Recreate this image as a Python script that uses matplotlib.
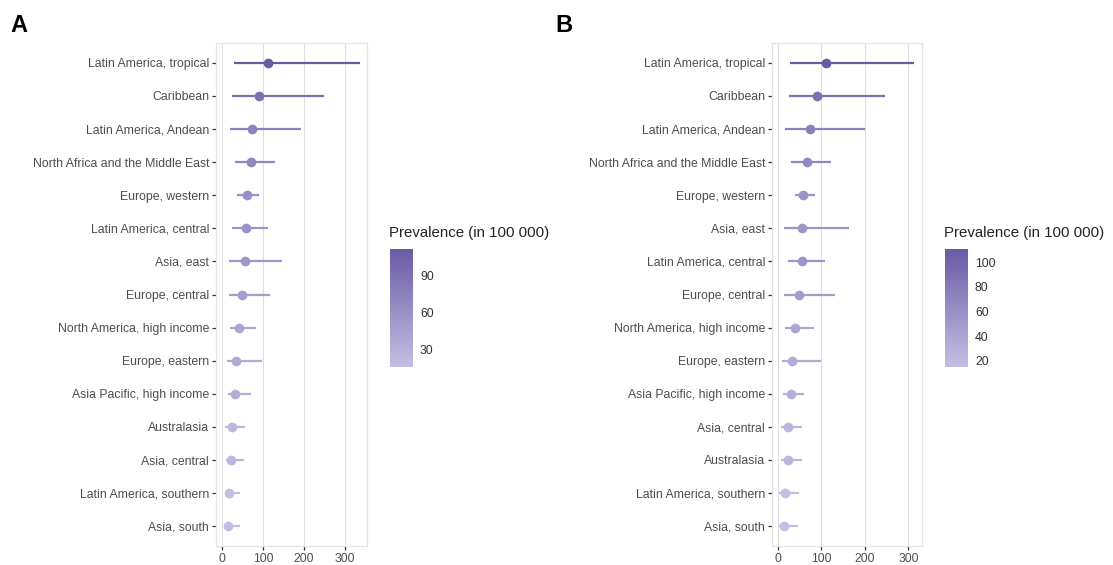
import matplotlib
matplotlib.use("Agg")
import matplotlib.pyplot as plt
import numpy as np
from matplotlib.colors import LinearSegmentedColormap, Normalize
from matplotlib.cm import ScalarMappable

plt.rcParams['font.family'] = ['Liberation Sans', 'DejaVu Sans']

# Panel A data (top to bottom)
regions_a = ["Latin America, tropical", "Caribbean", "Latin America, Andean",
             "North Africa and the Middle East", "Europe, western", "Latin America, central",
             "Asia, east", "Europe, central", "North America, high income", "Europe, eastern",
             "Asia Pacific, high income", "Australasia", "Asia, central",
             "Latin America, southern", "Asia, south"]
mean_a = [112, 90.6, 73.6, 69.6, 60.7, 57.5, 55, 48.5, 40.5, 34.7, 31.6, 23.5, 22.7, 17, 15.4]
low_a = [30, 24, 19.4, 31.6, 35.6, 23.5, 17, 17, 19.4, 11.4, 14.6, 7.3, 9.7, 7.3, 5.7]
high_a = [335, 249, 192.5, 130, 89, 111, 145, 116.5, 81.8, 97, 69.6, 56.6, 52.6, 43, 43]

# Panel B data (top to bottom)
regions_b = ["Latin America, tropical", "Caribbean", "Latin America, Andean",
             "North Africa and the Middle East", "Europe, western", "Asia, east",
             "Latin America, central", "Europe, central", "North America, high income",
             "Europe, eastern", "Asia Pacific, high income", "Asia, central", "Australasia",
             "Latin America, southern", "Asia, south"]
mean_b = [110.7, 91, 75, 68, 59, 56, 56, 48.5, 39.4, 34, 31, 22.8, 22.8, 16, 15]
low_b = [28, 25, 16.6, 31, 38.7, 14.4, 24, 14.4, 16.6, 10.5, 12.8, 6.8, 8.2, 3.6, 3.6]
high_b = [313, 246, 199.5, 123, 86.6, 164.7, 107.7, 130.5, 82.7, 100, 60.6, 55, 54.7, 47.8, 45.6]

xticks = [0, 100, 200, 300]
cbar_ticks_a = [30, 60, 90]
cbar_ticks_b = [20, 40, 60, 80, 100]

cmap = LinearSegmentedColormap.from_list("purp", ["#c4bfe2", "#6a5aa6"])

W, H = 1113, 565
fig = plt.figure(figsize=(W / 100, H / 100), dpi=100)


def px(l, t, r, b):
    return [l / W, 1 - b / H, (r - l) / W, (b - t) / H]


def panel(rect, regions, mean, low, high, xlim, cbar_rect, cticks, title_xy, letter_xy, letter):
    ax = fig.add_axes(px(*rect))
    norm = Normalize(vmin=min(mean), vmax=max(mean))
    n = len(regions)
    ys = np.arange(n)[::-1] + 1
    for y, m, lo, hi in zip(ys, mean, low, high):
        c = cmap(norm(m))
        ax.plot([lo, hi], [y, y], color=c, lw=1.6, solid_capstyle='butt', zorder=3)
        ax.plot([m], [y], 'o', color=c, ms=7, mec='none', zorder=4)
    ax.set_ylim(0.4, n + 0.6)
    ax.set_xlim(*xlim)
    ax.set_yticks(ys)
    ax.set_yticklabels(regions)
    ax.set_xticks(xticks)
    ax.tick_params(axis='both', labelsize=8.8, labelcolor='#4d4d4d', color='#333333',
                   length=3, width=0.9, pad=2)
    ax.grid(axis='x', color='#dedede', lw=0.8, zorder=0)
    ax.set_axisbelow(True)
    for s in ax.spines.values():
        s.set_color('#e3e3e3')
        s.set_linewidth(0.9)
    # colorbar
    cax = fig.add_axes(px(*cbar_rect))
    sm = ScalarMappable(norm=norm, cmap=cmap)
    cb = fig.colorbar(sm, cax=cax)
    cb.outline.set_visible(False)
    cb.set_ticks(cticks)
    cax.tick_params(length=0, labelsize=8.8, labelcolor='#333333', pad=5)
    fig.text(title_xy[0] / W, 1 - title_xy[1] / H, "Prevalence (in 100 000)",
             fontsize=10.8, color='#222222', va='center', ha='left')
    fig.text(letter_xy[0] / W, 1 - letter_xy[1] / H, letter, fontsize=17,
             fontweight='bold', va='center', ha='left')


panel((216, 43, 367, 546), regions_a, mean_a, low_a, high_a, (-14.6, 353),
      (390, 249, 413, 367), cbar_ticks_a, (389, 233), (10, 26), "A")
panel((772, 43, 922, 546), regions_b, mean_b, low_b, high_b, (-13, 331),
      (945, 249, 968, 367), cbar_ticks_b, (944, 233), (555, 26), "B")

fig.savefig("out.png", dpi=100, facecolor='white')
